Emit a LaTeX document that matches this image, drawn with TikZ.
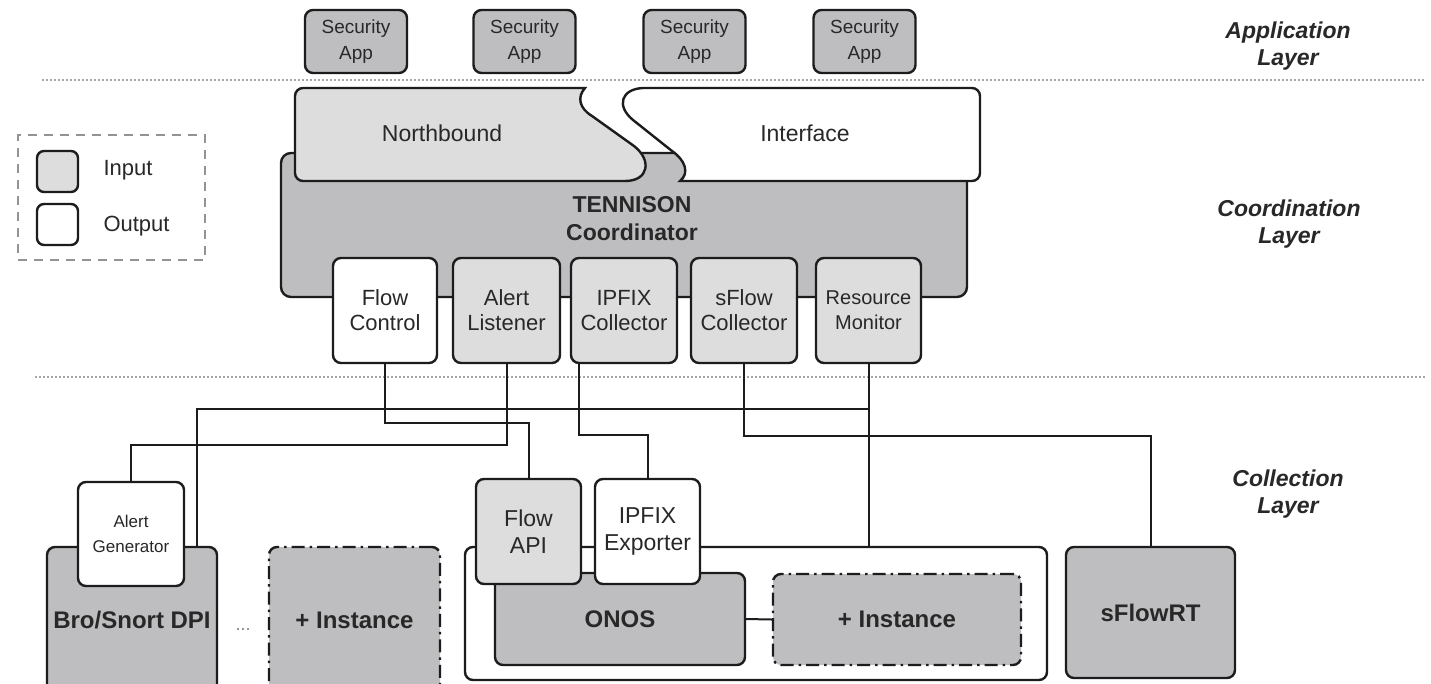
\documentclass[tikz,border=0pt]{standalone}
\usepackage{fontspec}
\setmainfont{Liberation Sans}
\usetikzlibrary{calc}
\definecolor{dg}{RGB}{190,190,192}
\definecolor{lg}{RGB}{221,221,221}
\definecolor{ln}{RGB}{28,28,28}
\definecolor{tx}{RGB}{40,40,40}
\newcommand\myfs[2]{\fontsize{#1}{#2}\selectfont}
\begin{document}
\begin{tikzpicture}[x=1pt,y=-1pt,
  box/.style={draw=ln, line width=2.4pt, rounded corners=8pt, inner sep=0pt, align=center, text=tx},
  comp/.style={box, minimum height=105pt, font=\myfs{22}{25}},
  app/.style={box, fill=dg, minimum width=102pt, minimum height=63pt, font=\myfs{19}{26}},
  big/.style={box, font=\myfs{24}{28}\bfseries},
  dashdot/.style={dash pattern=on 13pt off 5pt on 2.5pt off 5pt},
  conn/.style={draw=ln, line width=2pt},
  sep/.style={draw=gray!70, line width=1.6pt, dash pattern=on 1.6pt off 2.4pt},
  layer/.style={align=center, font=\myfs{23}{27}\bfseries\itshape, text=tx},
  plain/.style={align=center, text=tx}
]
\useasboundingbox (0,0) rectangle (1431,683);
\clip (0,0) rectangle (1431,683);
\fill[white] (0,0) rectangle (1431,683);

% separators
\draw[sep] (42,80) -- (1425,80);
\draw[sep] (35,377) -- (1425,377);

% layer labels
\node[layer] (lapp) at (1288,46) {Application\\Layer};
\node[layer] (lcoord) at (1289,224) {Coordination\\Layer};
\node[layer] (lcoll) at (1288,494) {Collection\\Layer};

% application layer
\node[app] (s1) at (356,41.5) {Security\\App};
\node[app] (s2) at (524.5,41.5) {Security\\App};
\node[app] (s3) at (694.5,41.5) {Security\\App};
\node[app] (s4) at (864.5,41.5) {Security\\App};

% legend
\node[draw=gray!85, line width=2.4pt, dash pattern=on 9pt off 7pt, minimum width=187pt, minimum height=125pt, inner sep=0pt] (leg) at (111.5,197.5) {};
\node[box, fill=lg, rounded corners=7pt, minimum width=41pt, minimum height=41pt] (lin) at (57.5,171.5) {};
\node[box, fill=white, rounded corners=7pt, minimum width=41pt, minimum height=41pt] (lout) at (57.5,224.5) {};
\node[plain, anchor=west, font=\myfs{22}{26}] (tin) at (100,170) {Input};
\node[plain, anchor=west, font=\myfs{22}{26}] (tout) at (100,226) {Output};

% coordinator
\node[box, fill=dg, rounded corners=10pt, minimum width=686pt, minimum height=144pt] (tc) at (624,225) {};
\node[plain, font=\myfs{23}{28}\bfseries] (tcl) at (632,219) {TENNISON\\Coordinator};

% northbound interface
\draw[draw=ln, line width=2.4pt, fill=lg] (625,181) [rounded corners=8pt] -- (295,181) -- (295,88) [sharp corners] -- (585,88)
  .. controls (577,97) and (579,108) .. (592,116) -- (634,146)
  .. controls (652,160) and (649,181) .. (625,181) -- cycle;
\draw[draw=ln, line width=2.4pt, fill=white] (643,88) [rounded corners=8pt] -- (980,88) -- (980,181) [sharp corners] -- (680,181)
  .. controls (690,173) and (685,160) .. (672,151) -- (633,120)
  .. controls (616,106) and (621,89) .. (643,88) -- cycle;
\node[plain, font=\myfs{23}{27}] (nb) at (442,133) {Northbound};
\node[plain, font=\myfs{23}{27}] (nif) at (805,133) {Interface};

% coordinator components
\node[comp, fill=white, minimum width=104pt] (fc) at (385,310.5) {Flow\\Control};
\node[comp, fill=lg, minimum width=107pt] (al) at (506.5,310.5) {Alert\\Listener};
\node[comp, fill=lg, minimum width=106pt] (ipc) at (624,310.5) {IPFIX\\Collector};
\node[comp, fill=lg, minimum width=106pt] (sfc) at (744,310.5) {sFlow\\Collector};
\node[comp, fill=lg, minimum width=105pt, font=\myfs{20}{25}] (rm) at (868.5,310.5) {Resource\\Monitor};

% collection layer
\node[big, fill=dg, minimum width=170pt, minimum height=146pt] (bro) at (132,620) {Bro/Snort DPI};
\node[box, fill=white, minimum width=106pt, minimum height=104pt, font=\myfs{17}{25}] (ag) at (131,534) {Alert\\Generator};
\node[plain, text=gray, font=\myfs{18}{20}] (dots) at (243,630) {...};
\node[big, fill=dg, dashdot, minimum width=171pt, minimum height=146pt] (i1) at (354.5,620) {+ Instance};
\node[box, fill=white, minimum width=582pt, minimum height=133pt] (cl) at (756,613.5) {};
\node[big, fill=dg, minimum width=250pt, minimum height=92pt] (onos) at (620,619) {ONOS};
\node[big, fill=dg, dashdot, minimum width=248pt, minimum height=91pt] (i2) at (897,619.5) {+ Instance};
\draw[conn] (onos.east) -- (i2.west);
\node[comp, fill=lg, minimum width=105pt, font=\myfs{23}{27}] (fapi) at (528.5,531.5) {Flow\\API};
\node[comp, fill=white, minimum width=105pt, font=\myfs{23}{27}] (ipe) at (647.5,531.5) {IPFIX\\Exporter};
\node[big, fill=dg, minimum width=169pt, minimum height=131pt] (sfrt) at (1150.5,612.5) {sFlowRT};

% connectors
\draw[conn] (fc.south) -- ++(0,59) -| (fapi.north);
\draw[conn] (al.south) -- ++(0,81) -| (ag.north);
\draw[conn] ($(ipc.south west)+(9,0)$) -- ++(0,71) -| (ipe.north);
\draw[conn] (sfc.south) -- ++(0,72) -| (sfrt.north);
\draw[conn] (rm.south) -- (rm.south |- cl.north);
\coordinate (rmj) at ($(rm.south)+(0,45)$);
\draw[conn] (rmj) -| ($(bro.north east)+(-21,0)$);
\end{tikzpicture}
\end{document}
